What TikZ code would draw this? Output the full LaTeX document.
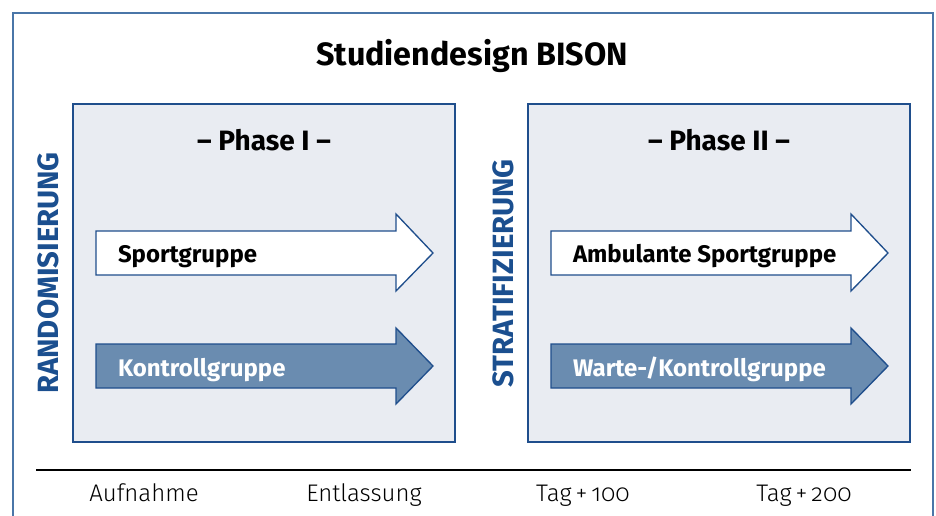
\documentclass[tikz,border=0pt]{standalone}
\usepackage{fontspec}
\setmainfont{Fira Sans}
\newfontfamily\lightfont{Fira Sans Light}[RawFeature=+onum]
\begin{document}
\begin{tikzpicture}[x=0.75pt,y=-0.75pt,
  every node/.style={inner sep=0pt,outer sep=0pt},
  frame/.style={draw=framebl,line width=1.5pt},
  phasebox/.style={draw=boxbl,fill=boxfill,line width=1.2pt},
  openarrow/.style={draw=boxbl,fill=white,line width=1pt,line join=miter},
  fullarrow/.style={draw=boxbl,fill=arrowbl,line width=1pt,line join=miter},
  titletext/.style={font=\fontsize{24.2}{28}\selectfont\bfseries},
  phasetext/.style={font=\fontsize{21}{25}\selectfont\bfseries,anchor=base},
  grouptext/.style={font=\fontsize{18}{22}\selectfont\bfseries,anchor=base west},
  sidetext/.style={font=\fontsize{22}{26}\selectfont\bfseries,text=sidebl,rotate=90,anchor=base},
  timetext/.style={font=\fontsize{18}{22}\lightfont,anchor=base},
]
\definecolor{framebl}{HTML}{4A76A8}
\definecolor{boxbl}{HTML}{1F4E8C}
\definecolor{boxfill}{HTML}{E9ECF2}
\definecolor{arrowbl}{HTML}{6A8CB0}
\definecolor{sidebl}{HTML}{1B4F8F}
\useasboundingbox (0,0) rectangle (936,515);

% outer frame, open at the bottom edge of the page
\draw[frame] (13,530) -- (13,12.5) -- (933,12.5) -- (933,530);

\node[titletext,anchor=base] (title) at (472,65) {Studiendesign BISON};

% phase boxes
\draw[phasebox] (73,104) rectangle (455,442);
\draw[phasebox] (528,104) rectangle (910,442);
\node[phasetext] (ph1) at (264,150) {– Phase I –};
\node[phasetext] (ph2) at (719,150) {– Phase II –};

% side labels
\node[sidetext] (rand) at (58,273) {RANDOMISIERUNG};
\node[sidetext] (strat) at (513,273.5) {STRATIFIZIERUNG};

% phase I arrows
\draw[openarrow] (96,231) -- (396,231) -- (396,214) -- (433,253) -- (396,291) -- (396,275) -- (96,275) -- cycle;
\draw[fullarrow] (96,344) -- (396,344) -- (396,328) -- (433,366) -- (396,404) -- (396,388) -- (96,388) -- cycle;
\node[grouptext] (sp1) at (118,262) {Sportgruppe};
\node[grouptext,text=white] (ko1) at (118,376) {Kontrollgruppe};

% phase II arrows
\draw[openarrow] (551,231) -- (851,231) -- (851,214) -- (888,253) -- (851,291) -- (851,275) -- (551,275) -- cycle;
\draw[fullarrow] (551,344) -- (851,344) -- (851,328) -- (888,366) -- (851,404) -- (851,388) -- (551,388) -- cycle;
\node[grouptext] (sp2) at (573,262) {Ambulante Sportgruppe};
\node[grouptext,text=white] (ko2) at (573,376) {Warte-/Kontrollgruppe};

% time line
\coordinate (tl) at (36,470);
\coordinate (tr) at (911,470);
\draw[line width=1pt] (tl) -- (tr);
\node[timetext] (t1) at (144,501) {Aufnahme};
\node[timetext] (t2) at (364,501) {Entlassung};
\node[timetext] (t3) at (583,501) {Tag\,+\,100};
\node[timetext] (t4) at (804,501) {Tag\,+\,200};
\end{tikzpicture}
\end{document}
